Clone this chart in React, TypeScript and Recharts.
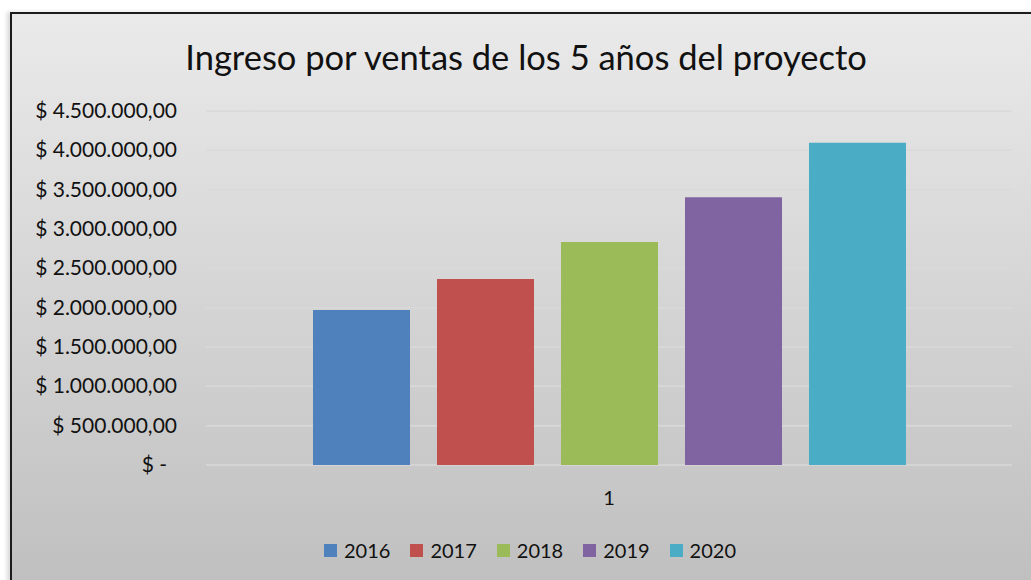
import { Bar, BarChart, CartesianGrid, XAxis, YAxis } from "recharts";

const categories = ["1"];
const years = ["2016", "2017", "2018", "2019", "2020"];
const revenue = [1970000, 2365000, 2835000, 3405000, 4095000];
const colors = ["#4f81bd", "#c0504d", "#9bbb59", "#8064a2", "#4bacc6"];
const yTicks = [0, 500000, 1000000, 1500000, 2000000, 2500000, 3000000, 3500000, 4000000, 4500000];

const data = categories.map((c) => {
  const row: Record<string, string | number> = { name: c };
  years.forEach((y, i) => {
    row[y] = revenue[i];
  });
  return row;
});

const FONT = "Lato, 'Open Sans', sans-serif";

// formato contable: $ 4.500.000,00
function money(v: number): string {
  if (v === 0) return "$ -";
  const int = Math.floor(v)
    .toString()
    .replace(/\B(?=(\d{3})+(?!\d))/g, ".");
  return `$ ${int},00`;
}

function YTick({ x, y, payload }: any) {
  const zero = payload.value === 0;
  return (
    <text
      x={x - 21 - (zero ? 10 : 0)}
      y={y}
      dy={7}
      textAnchor="end"
      fill="#111"
      fontSize={21}
      fontFamily={FONT}
    >
      {money(payload.value)}
    </text>
  );
}

function XTick({ x, y, payload }: any) {
  return (
    <text x={x} y={y} dy={32} textAnchor="middle" fill="#111" fontSize={20} fontFamily={FONT}>
      {payload.value}
    </text>
  );
}

export default function App() {
  return (
    <div
      style={{
        position: "fixed",
        left: 0,
        top: 0,
        width: 1031,
        height: 580,
        overflow: "hidden",
        background: "#fff",
      }}
    >
      <div
        style={{
          position: "absolute",
          left: 10,
          top: 12,
          width: 1040,
          height: 600,
          border: "2px solid #1c1c1c",
          boxShadow: "-3px 0 4px rgba(0,0,0,0.15)",
          background: "linear-gradient(to bottom, #eaeaea 0%, #bdbdbd 100%)",
        }}
      />
      <div
        style={{
          position: "absolute",
          left: 12,
          width: 1028,
          top: 36,
          textAlign: "center",
          fontFamily: FONT,
          fontSize: 34.5,
          color: "#111",
          lineHeight: "42px",
        }}
      >
        Ingreso por ventas de los 5 años del proyecto
      </div>
      <div style={{ position: "absolute", left: 0, top: 0 }}>
        <BarChart
          width={1031}
          height={580}
          data={data}
          margin={{ top: 111, right: 19, bottom: 85, left: 0 }}
          barGap={27}
        >
          <CartesianGrid vertical={false} stroke="#d9d9d9" strokeWidth={1.5} />
          <XAxis
            dataKey="name"
            axisLine={false}
            tickLine={false}
            tick={<XTick />}
            height={30}
          />
          <YAxis
            width={206}
            domain={[0, 4500000]}
            ticks={yTicks}
            axisLine={false}
            tickLine={false}
            tick={<YTick />}
            interval={0}
          />
          {years.map((y, i) => (
            <Bar key={y} dataKey={y} fill={colors[i]} barSize={97} isAnimationActive={false} />
          ))}
        </BarChart>
      </div>
      <div
        style={{
          position: "absolute",
          left: 12,
          width: 1036,
          top: 537,
          display: "flex",
          justifyContent: "center",
          gap: 20,
          fontFamily: FONT,
          fontSize: 20,
          color: "#111",
          lineHeight: "26px",
        }}
      >
        {years.map((y, i) => (
          <div key={y} style={{ display: "flex", alignItems: "center", gap: 7 }}>
            <span style={{ width: 13, height: 13, background: colors[i], display: "inline-block" }} />
            <span>{y}</span>
          </div>
        ))}
      </div>
    </div>
  );
}
